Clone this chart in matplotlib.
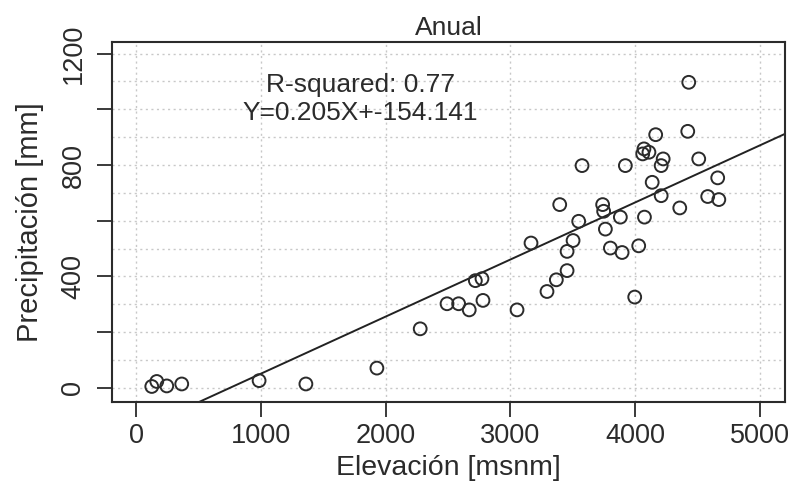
import numpy as np
import matplotlib.pyplot as plt

plt.rcParams['font.family'] = ['Liberation Sans', 'DejaVu Sans']

# Elevación [msnm] y precipitación anual [mm] por estación
elevacion = [126, 166, 246, 366, 986, 1361, 1930, 2277, 2492, 2585,
             2670, 2719, 2772, 2780, 3053, 3293, 3368, 3454, 3454, 3502,
             3165, 3547, 3761, 3801, 3895, 4028, 3996, 3881, 4074, 3747,
             3739, 3395, 4357, 4581, 4670, 4661, 4208, 4136, 3574, 3921,
             4208, 4224, 4509, 4070, 4110, 4060, 4164, 4421, 4429]
precipitacion = [5, 23, 7, 14, 26, 14, 71, 212, 302, 302,
                 280, 385, 392, 314, 280, 346, 388, 421, 490, 529,
                 520, 598, 570, 502, 486, 510, 326, 613, 613, 634,
                 658, 658, 646, 687, 676, 754, 690, 738, 798, 798,
                 798, 822, 822, 858, 846, 840, 909, 921, 1097]

pendiente = 0.205
intercepto = -154.141
r2 = 0.77

x_ticks = [0, 1000, 2000, 3000, 4000, 5000]
y_ticks = [0, 200, 400, 600, 800, 1000, 1200]
y_labels = ['0', '', '400', '', '800', '', '1200']

gris = '#2b2b2b'

fig = plt.figure(figsize=(7.95, 4.9), dpi=100)
ax = fig.add_axes([0.141, 0.180, 0.847, 0.735])

# rejilla punteada
for gx in x_ticks:
    ax.axvline(gx, color='#c8c8c8', lw=1, ls=(0, (1.5, 2.5)), zorder=0)
for gy in range(0, 1300, 100):
    ax.axhline(gy, color='#c8c8c8', lw=1, ls=(0, (1.5, 2.5)), zorder=0)

ax.scatter(elevacion, precipitacion, s=85, facecolors='none',
           edgecolors=gris, linewidths=1.4, zorder=3)
ax.axline((0, intercepto), slope=pendiente, color='#222222', lw=1.4, zorder=2)

ax.set_xlim(-192, 5204)
ax.set_ylim(-50, 1243)
ax.set_xticks(x_ticks)
ax.set_yticks(y_ticks)
ax.set_yticklabels(y_labels, rotation=90, va='center')
ax.tick_params(direction='out', length=10.5, width=1.3, colors=gris,
               labelsize=19.5, labelcolor=gris)
ax.tick_params(axis='x', pad=5)
ax.tick_params(axis='y', pad=8)

for s in ax.spines.values():
    s.set_color(gris)
    s.set_linewidth(1.5)

ax.set_title('Anual', fontsize=19, color=gris, pad=5)
ax.set_xlabel('Elevación [msnm]', fontsize=20.5, color=gris, labelpad=4)
ax.set_ylabel('Precipitación [mm]', fontsize=21, color=gris, labelpad=12)

ax.text(1796, 1089, f'R-squared: {r2}', fontsize=19, color=gris,
        ha='center', va='center')
ax.text(1796, 988, f'Y={pendiente}X+{intercepto}', fontsize=19, color=gris,
        ha='center', va='center')

fig.savefig('out.png', dpi=100)
